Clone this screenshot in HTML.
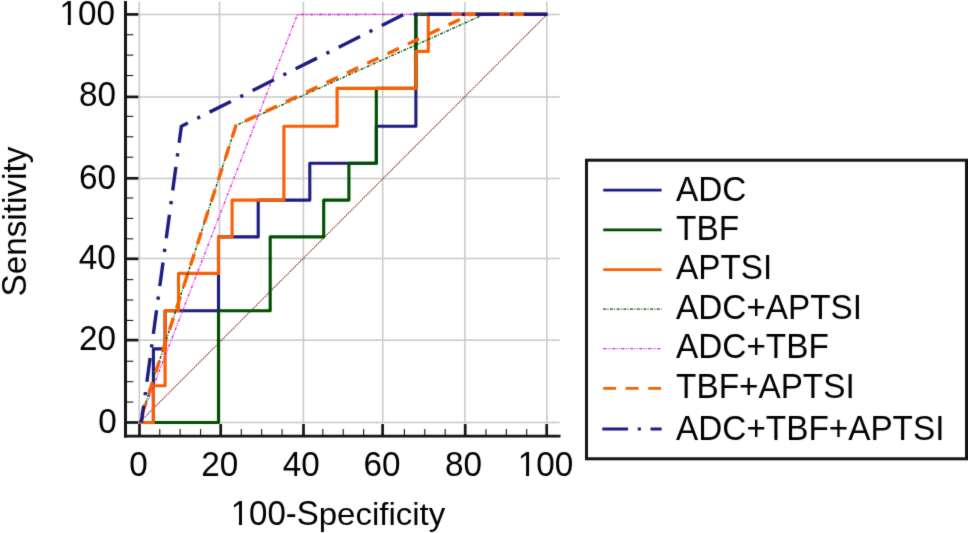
<!DOCTYPE html><html><head><meta charset="utf-8"><title>ROC curves</title><style>html,body{margin:0;padding:0;background:#fff;width:968px;height:533px;overflow:hidden}svg{display:block}text{font-family:"Liberation Sans",sans-serif;fill:#000;font-kerning:none}</style></head><body>
<svg width="968" height="533" viewBox="0 0 968 533">
<defs><filter id="soft" filterUnits="userSpaceOnUse" x="0" y="0" width="968" height="533" color-interpolation-filters="sRGB"><feConvolveMatrix order="3" kernelMatrix="0.01134 0.08382 0.01134 0.08382 0.61935 0.08382 0.01134 0.08382 0.01134" divisor="1" edgeMode="duplicate"/></filter></defs>
<g filter="url(#soft)"><rect width="968" height="533" fill="#fff"/>
<g stroke="#dcdcdc" stroke-width="1.5"><line x1="139.3" y1="2" x2="139.3" y2="422.5"/><line x1="219.5" y1="2" x2="219.5" y2="422.5"/><line x1="303.4" y1="2" x2="303.4" y2="422.5"/><line x1="382.7" y1="2" x2="382.7" y2="422.5"/><line x1="464.8" y1="2" x2="464.8" y2="422.5"/><line x1="546.8" y1="2" x2="546.8" y2="422.5"/><line x1="140" y1="422.5" x2="560" y2="422.5"/><line x1="140" y1="340.2" x2="560" y2="340.2"/><line x1="140" y1="258.6" x2="560" y2="258.6"/><line x1="140" y1="178.4" x2="560" y2="178.4"/><line x1="140" y1="96.9" x2="560" y2="96.9"/><line x1="140" y1="14.4" x2="560" y2="14.4"/></g>
<g stroke="#bababa" stroke-width="1.5" stroke-dasharray="1,1"><line x1="139.3" y1="2" x2="139.3" y2="422.5"/><line x1="219.5" y1="2" x2="219.5" y2="422.5"/><line x1="303.4" y1="2" x2="303.4" y2="422.5"/><line x1="382.7" y1="2" x2="382.7" y2="422.5"/><line x1="464.8" y1="2" x2="464.8" y2="422.5"/><line x1="546.8" y1="2" x2="546.8" y2="422.5"/><line x1="140" y1="422.5" x2="560" y2="422.5"/><line x1="140" y1="340.2" x2="560" y2="340.2"/><line x1="140" y1="258.6" x2="560" y2="258.6"/><line x1="140" y1="178.4" x2="560" y2="178.4"/><line x1="140" y1="96.9" x2="560" y2="96.9"/><line x1="140" y1="14.4" x2="560" y2="14.4"/></g>
<g stroke="#141414" fill="none">
<line x1="125.5" y1="1" x2="125.5" y2="437.6" stroke-width="3"/>
<line x1="124" y1="436.2" x2="560.5" y2="436.2" stroke-width="2.8"/>
<line x1="127" y1="422.5" x2="138.4" y2="422.5" stroke-width="2.7"/>
<line x1="127" y1="402.07" x2="133.2" y2="402.07" stroke-width="1.1"/>
<line x1="127" y1="381.66" x2="133.2" y2="381.66" stroke-width="1.1"/>
<line x1="127" y1="361.26" x2="133.2" y2="361.26" stroke-width="1.1"/>
<line x1="127" y1="340.1" x2="138.4" y2="340.1" stroke-width="2.7"/>
<line x1="127" y1="320.44" x2="133.2" y2="320.44" stroke-width="1.1"/>
<line x1="127" y1="300.03" x2="133.2" y2="300.03" stroke-width="1.1"/>
<line x1="127" y1="279.62" x2="133.2" y2="279.62" stroke-width="1.1"/>
<line x1="127" y1="258.8" x2="138.4" y2="258.8" stroke-width="2.7"/>
<line x1="127" y1="238.81" x2="133.2" y2="238.81" stroke-width="1.1"/>
<line x1="127" y1="218.40" x2="133.2" y2="218.40" stroke-width="1.1"/>
<line x1="127" y1="197.99" x2="133.2" y2="197.99" stroke-width="1.1"/>
<line x1="127" y1="178.3" x2="138.4" y2="178.3" stroke-width="2.7"/>
<line x1="127" y1="157.18" x2="133.2" y2="157.18" stroke-width="1.1"/>
<line x1="127" y1="136.77" x2="133.2" y2="136.77" stroke-width="1.1"/>
<line x1="127" y1="116.36" x2="133.2" y2="116.36" stroke-width="1.1"/>
<line x1="127" y1="96.9" x2="138.4" y2="96.9" stroke-width="2.7"/>
<line x1="127" y1="75.54" x2="133.2" y2="75.54" stroke-width="1.1"/>
<line x1="127" y1="55.14" x2="133.2" y2="55.14" stroke-width="1.1"/>
<line x1="127" y1="34.73" x2="133.2" y2="34.73" stroke-width="1.1"/>
<line x1="127" y1="14.4" x2="138.4" y2="14.4" stroke-width="2.7"/>
<line x1="139.5" y1="424" x2="139.5" y2="435" stroke-width="2.7"/>
<line x1="159.75" y1="429" x2="159.75" y2="435" stroke-width="1.1"/>
<line x1="180.14" y1="429" x2="180.14" y2="435" stroke-width="1.1"/>
<line x1="200.52" y1="429" x2="200.52" y2="435" stroke-width="1.1"/>
<line x1="220.7" y1="424" x2="220.7" y2="435" stroke-width="2.7"/>
<line x1="241.30" y1="429" x2="241.30" y2="435" stroke-width="1.1"/>
<line x1="261.69" y1="429" x2="261.69" y2="435" stroke-width="1.1"/>
<line x1="282.07" y1="429" x2="282.07" y2="435" stroke-width="1.1"/>
<line x1="303.5" y1="424" x2="303.5" y2="435" stroke-width="2.7"/>
<line x1="322.85" y1="429" x2="322.85" y2="435" stroke-width="1.1"/>
<line x1="343.24" y1="429" x2="343.24" y2="435" stroke-width="1.1"/>
<line x1="363.62" y1="429" x2="363.62" y2="435" stroke-width="1.1"/>
<line x1="382.6" y1="424" x2="382.6" y2="435" stroke-width="2.7"/>
<line x1="404.40" y1="429" x2="404.40" y2="435" stroke-width="1.1"/>
<line x1="424.78" y1="429" x2="424.78" y2="435" stroke-width="1.1"/>
<line x1="445.17" y1="429" x2="445.17" y2="435" stroke-width="1.1"/>
<line x1="465.2" y1="424" x2="465.2" y2="435" stroke-width="2.7"/>
<line x1="485.95" y1="429" x2="485.95" y2="435" stroke-width="1.1"/>
<line x1="506.33" y1="429" x2="506.33" y2="435" stroke-width="1.1"/>
<line x1="526.72" y1="429" x2="526.72" y2="435" stroke-width="1.1"/>
<line x1="546.7" y1="424" x2="546.7" y2="435" stroke-width="2.7"/>
</g>
<line x1="139.36" y1="422.48" x2="547.11" y2="14.32" stroke="#a02828" stroke-width="1.1" stroke-dasharray="1.6,0.9"/>
<polyline points="139.40,422.50 153.40,422.50 153.40,348.90 165.10,348.90 165.10,310.80 218.50,310.80 218.50,236.90 258.20,236.90 258.20,200.10 309.80,200.10 309.80,163.30 376.30,163.30 376.30,126.30 415.90,126.30 415.90,88.40 415.90,14.40 547.00,14.40" fill="none" stroke="#1c1c82" stroke-width="3.1" stroke-linecap="butt" stroke-linejoin="round"/>
<polyline points="139.40,422.50 218.50,422.50 218.50,310.80 270.20,310.80 270.20,236.90 323.70,236.90 323.70,200.10 348.90,200.10 348.90,163.30 376.30,163.30 376.30,88.40 415.90,88.40 415.90,14.40 547.00,14.40" fill="none" stroke="#004e00" stroke-width="3.1" stroke-linecap="butt" stroke-linejoin="round"/>
<polyline points="139.40,422.50 153.40,422.50 153.40,385.70 165.10,385.70 165.10,310.80 178.50,310.80 178.50,273.40 218.50,273.40 218.50,236.90 232.10,236.90 232.10,200.10 283.90,200.10 283.90,126.30 337.10,126.30 337.10,88.40 415.90,88.40 415.90,51.40 428.30,51.40 428.30,14.40 547.00,14.40" fill="none" stroke="#f86000" stroke-width="3.1" stroke-linecap="butt" stroke-linejoin="round"/>
<polyline points="139.36,422.48 236,125.5 484,14.4 547,14.4" fill="none" stroke="#004e00" stroke-width="1.4" stroke-linecap="butt" stroke-linejoin="miter" stroke-dasharray="3,1.2,1,1.5"/>
<polyline points="139.36,422.48 297.4,14.5 547,14.4" fill="none" stroke="#e61ae6" stroke-width="1.3" stroke-linecap="butt" stroke-linejoin="miter" stroke-dasharray="3.2,1.2,1,1.2,1,1.4"/>
<polyline points="139.36,422.48 236,125.5 470.5,14.4 547,14.4" fill="none" stroke="#f86000" stroke-width="3.4" stroke-linecap="butt" stroke-linejoin="miter" stroke-dasharray="12.5,10" stroke-dashoffset="15"/>
<polyline points="141.4,422.48 181.37,126.3 404,14.4 548,14.4" fill="none" stroke="#1c1c82" stroke-width="3.4" stroke-linecap="butt" stroke-linejoin="miter" stroke-dasharray="23.9,10.55,3.2,10.55" stroke-dashoffset="7"/>
<text transform="translate(116.8,433.0) scale(1,1.04)" text-anchor="end" font-size="33.3">0</text>
<text transform="translate(116.0,350.0) scale(1,1.04)" text-anchor="end" font-size="33.3">20</text>
<text transform="translate(115.8,268.6) scale(1,1.04)" text-anchor="end" font-size="33.3">40</text>
<text transform="translate(116.0,188.5) scale(1,1.04)" text-anchor="end" font-size="33.3">60</text>
<text transform="translate(116.0,106.2) scale(1,1.04)" text-anchor="end" font-size="33.3">80</text>
<text transform="translate(115.0,24.5) scale(1,1.04)" text-anchor="end" font-size="33.3">100</text>
<text transform="translate(138.5,475.8) scale(1,1.04)" text-anchor="middle" font-size="33.3">0</text>
<text transform="translate(219.7,475.8) scale(1,1.04)" text-anchor="middle" font-size="33.3">20</text>
<text transform="translate(301.3,475.8) scale(1,1.04)" text-anchor="middle" font-size="33.3">40</text>
<text transform="translate(382.0,475.8) scale(1,1.04)" text-anchor="middle" font-size="33.3">60</text>
<text transform="translate(463.6,475.8) scale(1,1.04)" text-anchor="middle" font-size="33.3">80</text>
<text transform="translate(545.5,475.8) scale(1,1.04)" text-anchor="middle" font-size="33.3">100</text>
<text transform="translate(230.70,525) scale(1,1.04)" font-size="33.0">100-S</text>
<text transform="translate(318.76,525.4) scale(1,0.975)" font-size="33.0">pecificity</text>
<text transform="translate(25.7,221.6) rotate(-90) translate(-74.95,0) scale(1,1.04)" font-size="33.3">S</text>
<text transform="translate(25.7,221.6) rotate(-90) translate(-52.74,0) scale(1,0.975)" font-size="33.3">ensitivity</text>
<rect x="60.90" y="20.78" width="6.85" height="5.02" fill="#fff"/><rect x="70.82" y="20.78" width="6.59" height="5.02" fill="#fff"/>
<rect x="519.18" y="472.08" width="6.85" height="5.02" fill="#fff"/><rect x="529.10" y="472.08" width="6.59" height="5.02" fill="#fff"/>
<rect x="232.15" y="521.31" width="6.78" height="4.99" fill="#fff"/><rect x="241.98" y="521.31" width="6.53" height="4.99" fill="#fff"/>
<rect x="586.5" y="160.2" width="380" height="298.6" fill="none" stroke="#141414" stroke-width="3"/>
<line x1="603.2" y1="190.2" x2="661.6" y2="190.2" stroke="#1c1c82" stroke-width="2.8"/>
<text transform="translate(676.1,200.5) scale(1,1.04)" font-size="33.3">ADC</text>
<line x1="603.2" y1="229.9" x2="661.6" y2="229.9" stroke="#004e00" stroke-width="2.8"/>
<text transform="translate(676.1,240.0) scale(1,1.04)" font-size="33.3">TBF</text>
<line x1="603.2" y1="269.6" x2="661.6" y2="269.6" stroke="#f86000" stroke-width="2.8"/>
<text transform="translate(676.1,279.3) scale(1,1.04)" font-size="33.3">APTSI</text>
<line x1="603.2" y1="309.1" x2="661.6" y2="309.1" stroke="#004e00" stroke-width="1.4" stroke-dasharray="3,1.2,1,1.5"/>
<text transform="translate(676.1,319.0) scale(1,1.04)" font-size="33.3">ADC+APTSI</text>
<line x1="603.2" y1="348.6" x2="661.6" y2="348.6" stroke="#e61ae6" stroke-width="1.4" stroke-dasharray="3.2,1.2,1,1.2,1,1.4"/>
<text transform="translate(676.1,358.3) scale(1,1.04)" font-size="33.3">ADC+TBF</text>
<line x1="603.2" y1="388.3" x2="661.6" y2="388.3" stroke="#f86000" stroke-width="2.8" stroke-dasharray="12.9,9.6"/>
<text transform="translate(676.1,398.0) scale(1,1.04)" font-size="33.3">TBF+APTSI</text>
<line x1="602.3" y1="429.0" x2="661.6" y2="429.0" stroke="#1c1c82" stroke-width="2.8" stroke-dasharray="25.8,9.6,3.2,9.6"/>
<text transform="translate(676.1,439.7) scale(1,1.04)" font-size="33.3">ADC+TBF+APTSI</text>
</g></svg></body></html>
